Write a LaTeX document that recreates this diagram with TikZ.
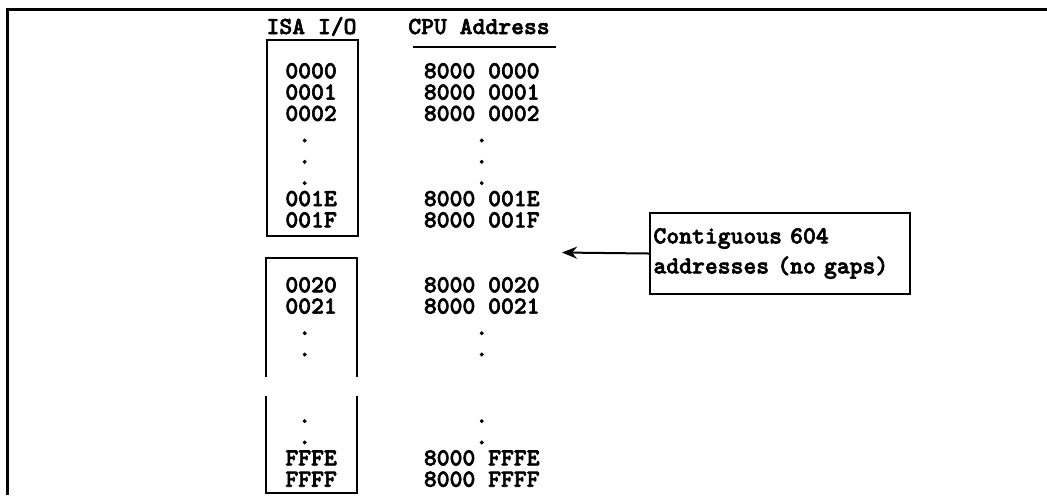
\documentclass[tikz,border=0pt]{standalone}
\usepackage{fontspec}
\setmonofont{lmmonolt10-bold.otf}[FakeBold=2.4]
\usetikzlibrary{arrows.meta}
\tikzset{
    frame_line/.style={line width=1.5pt, draw=black},
    box_line/.style={line width=1pt, draw=black},
    head_text/.style={anchor=base, inner sep=0pt},
    row_text/.style={anchor=base west, inner sep=0pt},
    isa_box/.style={box_line, anchor=north west, inner sep=0pt,
                    minimum width=45.5pt, minimum height=98pt},
    call_box/.style={box_line, anchor=north west, align=left,
                     text width=126.5pt, inner xsep=1.75pt, inner ysep=0pt,
                     minimum height=40.8pt}
}

\begin{document}
\begin{tikzpicture}[x=0.5pt, y=-0.5pt, font=\ttfamily\fontsize{12.24}{15}\selectfont, >={Stealth[length=7.5pt, width=6pt]}]
    \useasboundingbox (0,0) rectangle (1047,495);
    \draw[frame_line] (7.5,495) -- (7.5,9.5) -- (1047,9.5);
    % column heads
    \node[head_text] (isahead) at (311.5,34) {ISA I/O};
    \node[head_text] (cpuhead) at (479,34) {CPU Address};
    \draw[box_line] (413,46.7) -- (555.7,46.7);
    % first block
    \node[isa_box] (isabox) at (265.7,39) {};
    \node[row_text] (isa0) at (285,78.3) {0000};
    \node[row_text] (cpu0) at (423.5,78.3) {8000 0000};
    \node[row_text] (isa1) at (285,99.6) {0001};
    \node[row_text] (cpu1) at (423.5,99.6) {8000 0001};
    \node[row_text] (isa2) at (285,120.9) {0002};
    \node[row_text] (cpu2) at (423.5,120.9) {8000 0002};
    \node[row_text] (isadotA) at (285,142.2) {\hphantom{0}.};
    \node[row_text] (cpudotA) at (423.5,142.2) {\hphantom{0000}.};
    \node[row_text] (isadotB) at (285,163.5) {\hphantom{0}.};
    \node[row_text] (cpudotB) at (423.5,163.5) {\hphantom{0000}.};
    \node[row_text] (isadotC) at (285,184.8) {\hphantom{0}.};
    \node[row_text] (cpudotC) at (423.5,184.8) {\hphantom{0000}.};
    \node[row_text] (isa1E) at (285,206.1) {001E};
    \node[row_text] (cpu1E) at (423.5,206.1) {8000 001E};
    \node[row_text] (isa1F) at (285,227.4) {001F};
    \node[row_text] (cpu1F) at (423.5,227.4) {8000 001F};
    % second block, open at the break
    \draw[box_line] (265.7,377) -- (265.7,258.3) -- (356.7,258.3) -- (356.7,377);
    \draw[box_line] (265.7,396) -- (265.7,493) -- (356.7,493) -- (356.7,396);
    \node[row_text] (isa20) at (285,292.3) {0020};
    \node[row_text] (cpu20) at (423.5,292.3) {8000 0020};
    \node[row_text] (isa21) at (285,313.6) {0021};
    \node[row_text] (cpu21) at (423.5,313.6) {8000 0021};
    \node[row_text] (isadotD) at (285,334.9) {\hphantom{0}.};
    \node[row_text] (cpudotD) at (423.5,334.9) {\hphantom{0000}.};
    \node[row_text] (isadotE) at (285,356.2) {\hphantom{0}.};
    \node[row_text] (cpudotE) at (423.5,356.2) {\hphantom{0000}.};
    \node[row_text] (isadotF) at (285,422.8) {\hphantom{0}.};
    \node[row_text] (cpudotF) at (423.5,422.8) {\hphantom{0000}.};
    \node[row_text] (isadotG) at (285,444.1) {\hphantom{0}.};
    \node[row_text] (cpudotG) at (423.5,444.1) {\hphantom{0000}.};
    \node[row_text] (isaFE) at (285,465.4) {FFFE};
    \node[row_text] (cpuFE) at (423.5,465.4) {8000 FFFE};
    \node[row_text] (isaFF) at (285,486.7) {FFFF};
    \node[row_text] (cpuFF) at (423.5,486.7) {8000 FFFF};
    % note
    \node[call_box] (callout) at (649,211.7) {Contiguous 604\\addresses (no gaps)};
    \coordinate (calltip) at (562,252.5);
    \draw[box_line, ->] (callout.west) -- (calltip);
\end{tikzpicture}
\end{document}
